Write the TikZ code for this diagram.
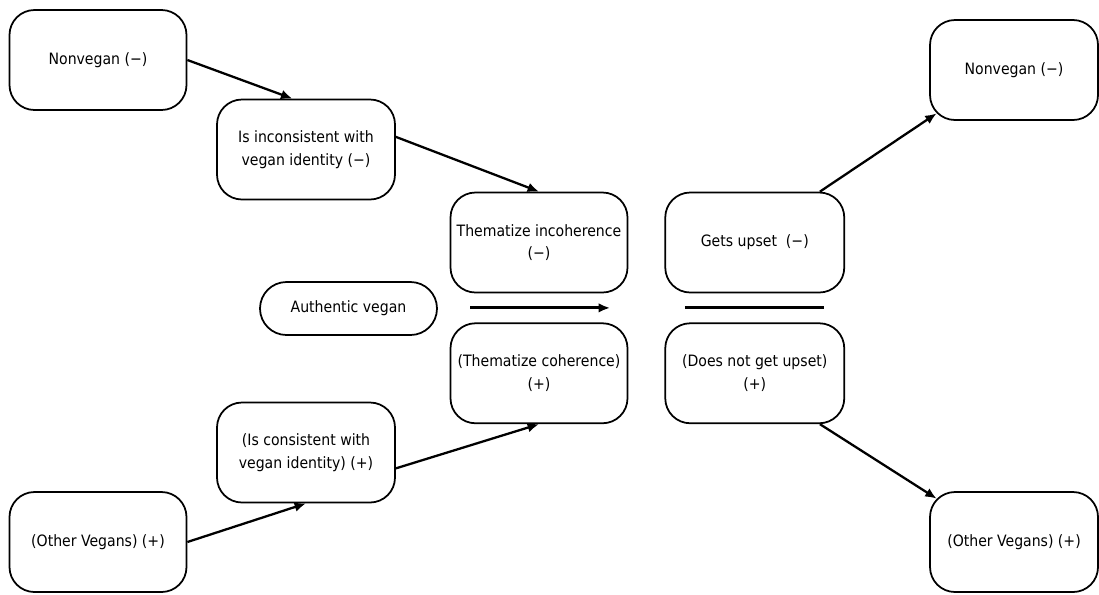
\documentclass[tikz,border=0pt]{standalone}
\usepackage{fontspec}
\setmainfont{DejaVu Sans Condensed}
\usepackage{tikz}
\usetikzlibrary{arrows.meta,positioning,calc}

\begin{document}
\begin{tikzpicture}[
    node distance=1cm,
    >={Latex[length=6.5pt,width=5.5pt]},
    box/.style={rectangle, rounded corners=0.5cm, draw, line width=1pt, minimum width=3.54cm, minimum height=2cm, align=center, font=\fontsize{8.9}{13}\selectfont},
    link/.style={->, line width=1.3pt}
]
    \useasboundingbox (0,0) rectangle (21.98,-11.88);

    \node[box] (themI) at (10.78,-4.85) {Thematize incoherence\\(−)};
    \node[box, below=0.58cm of themI] (themC) {(Thematize coherence)\\(+)};
    \node[box, minimum width=3.58cm, right=0.72cm of themI] (upset) {Gets upset~ (−)};
    \node[box, minimum width=3.58cm, right=0.72cm of themC] (noup) {(Does not get upset)\\(+)};

    \node[box, minimum height=1.06cm, rounded corners=0.53cm] (auth) at (6.97,-6.17) {Authentic vegan};
    \node[box, minimum width=3.56cm] (incon) at (6.12,-2.99) {Is inconsistent with\\vegan identity (−)};
    \node[box, minimum width=3.56cm] (con) at (6.12,-9.05) {(Is consistent with\\vegan identity) (+)};
    \node[box] (nvL) at (1.96,-1.20) {Nonvegan (−)};
    \node[box] (ovL) at (1.96,-10.84) {(Other Vegans) (+)};
    \node[box, minimum width=3.36cm] (nvR) at (20.28,-1.40) {Nonvegan (−)};
    \node[box, minimum width=3.36cm] (ovR) at (20.28,-10.84) {(Other Vegans) (+)};

    \draw[link] (nvL.east) -- (incon.105);
    \draw[link] (incon.8) -- (themI.north);
    \draw[link] (ovL.east) -- (con.south);
    \draw[link] (con.-10) -- (themC.south);
    \draw[link] (upset.38) -- ([shift={(0.15,0.15)}]nvR.south west);
    \draw[link] (noup.-38) -- ([shift={(0.15,-0.15)}]ovR.north west);

    % between the pairs
    \coordinate (gapL) at ($(themI.south)!0.5!(themC.north)$);
    \coordinate (gapR) at ($(upset.south)!0.5!(noup.north)$);
    \draw[->, line width=1.6pt] ([xshift=-1.38cm]gapL) -- ([xshift=1.42cm]gapL);
    \draw[line width=1.6pt] ([xshift=-1.4cm]gapR) -- ([xshift=1.38cm]gapR);
\end{tikzpicture}
\end{document}
